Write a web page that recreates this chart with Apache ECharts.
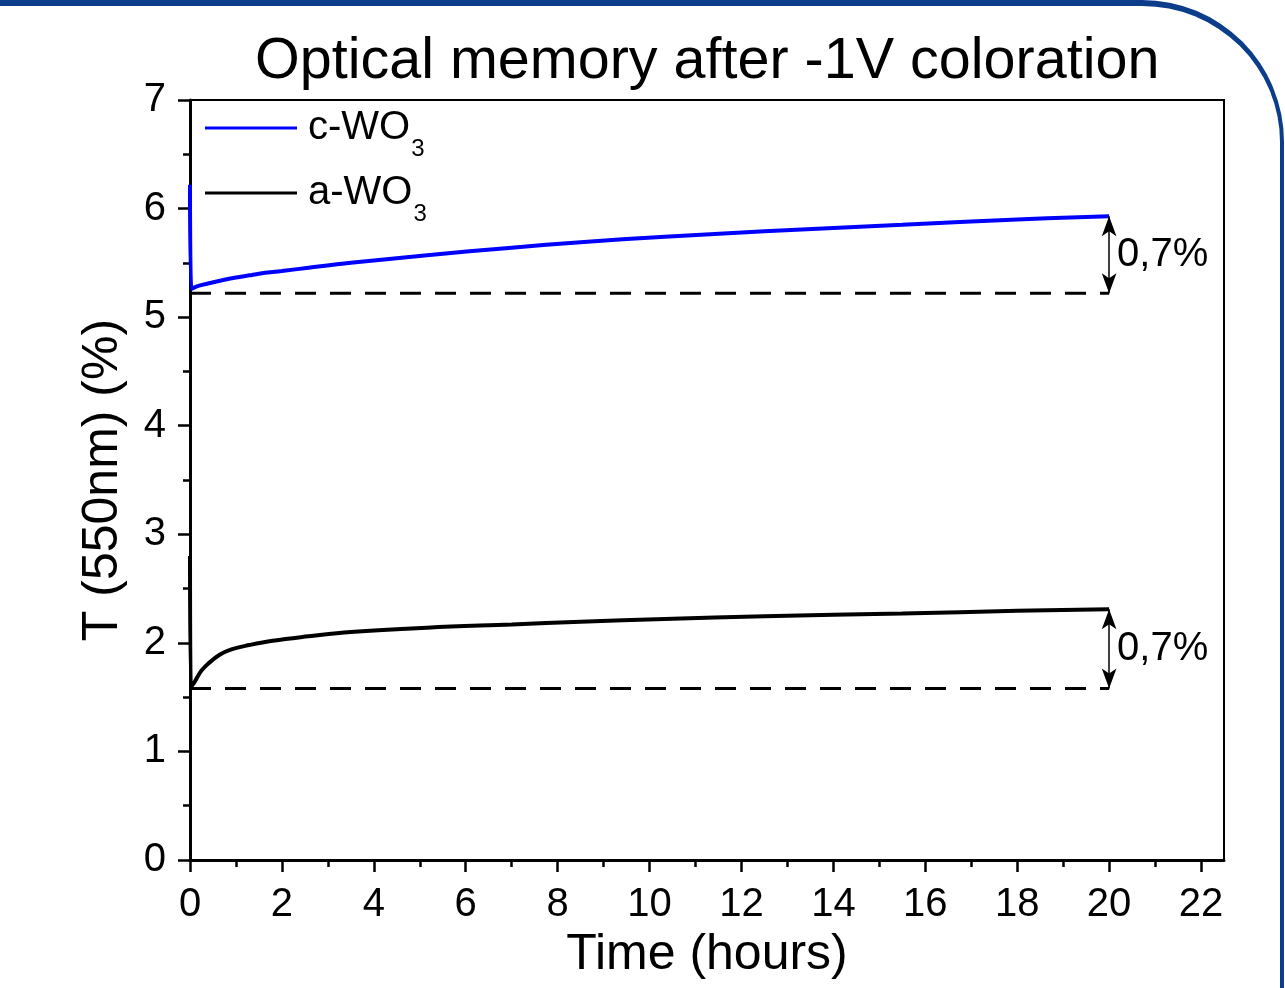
<!DOCTYPE html>
<html>
<head>
<meta charset="utf-8">
<script src="https://cdn.jsdelivr.net/npm/echarts@6/dist/echarts.min.js"></script>
<style>
  html, body { margin: 0; padding: 0; background: #fff; overflow: hidden; }
  #frame {
    position: absolute; left: -20px; top: 0; width: 1304px; height: 1100px;
    box-sizing: border-box; border-top: 6px solid #0b3d8b; border-right: 4px solid #0b3d8b;
    border-top-right-radius: 142px;
  }
  #chart { position: absolute; left: 0; top: 0; width: 1285px; height: 988px; }
</style>
</head>
<body>
<div id="frame"></div>
<div id="chart"></div>
<script>
// c-WO3 (blue) transmittance vs time (hours)
var cTime = [0, 0.03, 0.1, 0.2, 0.39, 0.7, 1.0, 1.29, 1.5, 2.0, 2.58, 3.5, 5.16, 7, 8.5, 10.33, 12.5, 15.5, 18, 20];
var cVal  = [6.22, 5.26, 5.275, 5.29, 5.31, 5.34, 5.365, 5.385, 5.40, 5.425, 5.455, 5.50, 5.57, 5.64, 5.69, 5.74, 5.79, 5.85, 5.90, 5.93];
// a-WO3 (black)
var aTime = [0, 0.02, 0.05, 0.1, 0.18, 0.26, 0.4, 0.645, 0.9, 1.29, 1.8, 2.58, 3.5, 5.16, 7, 8.5, 10.33, 12.5, 15.5, 18, 20];
var aVal  = [2.80, 1.59, 1.61, 1.64, 1.70, 1.75, 1.81, 1.89, 1.94, 1.98, 2.02, 2.06, 2.10, 2.14, 2.17, 2.195, 2.22, 2.245, 2.27, 2.295, 2.31];
// dashed baselines and the memory loss annotation
var baseStart = 0, baseEnd = 20;
var cBase = 5.22, aBase = 1.58;
var lossLabels = ['0,7%', '0,7%'];
// tick labels
var xTicks = [0, 2, 4, 6, 8, 10, 12, 14, 16, 18, 20, 22];
var xMinor = [1, 3, 5, 7, 9, 11, 13, 15, 17, 19, 21];
var seriesNames = ['c-WO', 'a-WO'];

var FONT = '"Liberation Sans", Arial, sans-serif';

function pairs(xs, ys) {
  var out = [];
  for (var i = 0; i < xs.length; i++) out.push([xs[i], ys[i]]);
  return out;
}

var chart = echarts.init(document.getElementById('chart'));

chart.setOption({
  animation: false,
  textStyle: { fontFamily: FONT, color: '#000' },
  title: {
    text: 'Optical memory after -1V coloration',
    left: 255, top: 33, padding: 0,
    textStyle: { fontFamily: FONT, fontSize: 57.5, fontWeight: 'normal', color: '#000' }
  },
  legend: {
    data: seriesNames,
    orient: 'vertical',
    left: 205, top: 108, padding: 0,
    itemGap: 12,
    icon: 'rect',
    itemWidth: 92, itemHeight: 3,
    selectedMode: false,
    formatter: function (name) { return '{a|' + name + '}{s|3}'; },
    textStyle: {
      padding: [0, 0, 0, 6],
      rich: {
        a: { fontFamily: FONT, fontSize: 40, lineHeight: 66, color: '#000' },
        s: { fontFamily: FONT, fontSize: 24, lineHeight: 24, verticalAlign: 'bottom', color: '#000', padding: [0, 0, 0, 1] }
      }
    }
  },
  grid: {
    left: 190, top: 100, right: 61, bottom: 128,
    show: true, borderColor: '#000', borderWidth: 2
  },
  xAxis: [{
    type: 'value', min: 0, max: 22.5,
    name: 'Time (hours)', nameLocation: 'middle', nameGap: 64,
    nameTextStyle: { fontFamily: FONT, fontSize: 50, color: '#000' },
    splitLine: { show: false },
    axisLine: { lineStyle: { color: '#000', width: 3 } },
    axisTick: { customValues: xTicks, length: 12, lineStyle: { color: '#000', width: 2.5 } },
    axisLabel: { customValues: xTicks, margin: 25, fontSize: 40, color: '#000', fontFamily: FONT }
  }, {
    type: 'value', min: 0, max: 22.5, position: 'bottom',
    splitLine: { show: false },
    axisLine: { show: false },
    axisTick: { customValues: xMinor, length: 7, lineStyle: { color: '#000', width: 2.5 } },
    axisLabel: { show: false }
  }],
  yAxis: {
    type: 'value', min: 0, max: 7, interval: 1,
    name: 'T (550nm) (%)', nameLocation: 'middle', nameGap: 62,
    nameTextStyle: { fontFamily: FONT, fontSize: 50, color: '#000' },
    splitLine: { show: false },
    axisLine: { lineStyle: { color: '#000', width: 3 } },
    axisTick: { length: 12, lineStyle: { color: '#000', width: 2.5 } },
    minorTick: { show: true, splitNumber: 2, length: 7, lineStyle: { color: '#000', width: 2.5 } },
    axisLabel: { margin: 24, fontSize: 40, color: '#000', fontFamily: FONT }
  },
  series: [{
    name: seriesNames[0], type: 'line', data: pairs(cTime, cVal),
    showSymbol: false, smooth: 0.4,
    lineStyle: { color: '#0000ff', width: 4 }, itemStyle: { color: '#0000ff' }, z: 4
  }, {
    name: seriesNames[1], type: 'line', data: pairs(aTime, aVal),
    showSymbol: false, smooth: 0.4,
    lineStyle: { color: '#000', width: 4 }, itemStyle: { color: '#000' }, z: 4
  }, {
    name: 'c-base', type: 'line', data: [[baseStart, cBase], [baseEnd, cBase]],
    showSymbol: false, lineStyle: { color: '#000', width: 3, type: [21, 14] },
    markLine: {
      silent: true, symbol: ['arrow', 'arrow'], symbolSize: [11, 20],
      lineStyle: { color: '#000', width: 1.5, type: 'solid' }, label: { show: false },
      data: [[{ coord: [baseEnd, cBase] }, { coord: [baseEnd, cVal[cVal.length - 1]] }]]
    }
  }, {
    name: 'a-base', type: 'line', data: [[baseStart, aBase], [baseEnd, aBase]],
    showSymbol: false, lineStyle: { color: '#000', width: 3, type: [21, 14] },
    markLine: {
      silent: true, symbol: ['arrow', 'arrow'], symbolSize: [11, 20],
      lineStyle: { color: '#000', width: 1.5, type: 'solid' }, label: { show: false },
      data: [[{ coord: [baseEnd, aBase] }, { coord: [baseEnd, aVal[aVal.length - 1]] }]]
    }
  }, {
    name: 'loss', type: 'scatter', symbolSize: 0,
    itemStyle: { color: '#000', opacity: 1 },
    data: [
      { value: [baseEnd, (cBase + cVal[cVal.length - 1]) / 2], label: { formatter: lossLabels[0] } },
      { value: [baseEnd, (aBase + aVal[aVal.length - 1]) / 2], label: { formatter: lossLabels[1] } }
    ],
    label: { show: true, position: 'right', distance: 8, fontSize: 40, color: '#000', opacity: 1, fontFamily: FONT }
  }]
});
</script>
</body>
</html>
